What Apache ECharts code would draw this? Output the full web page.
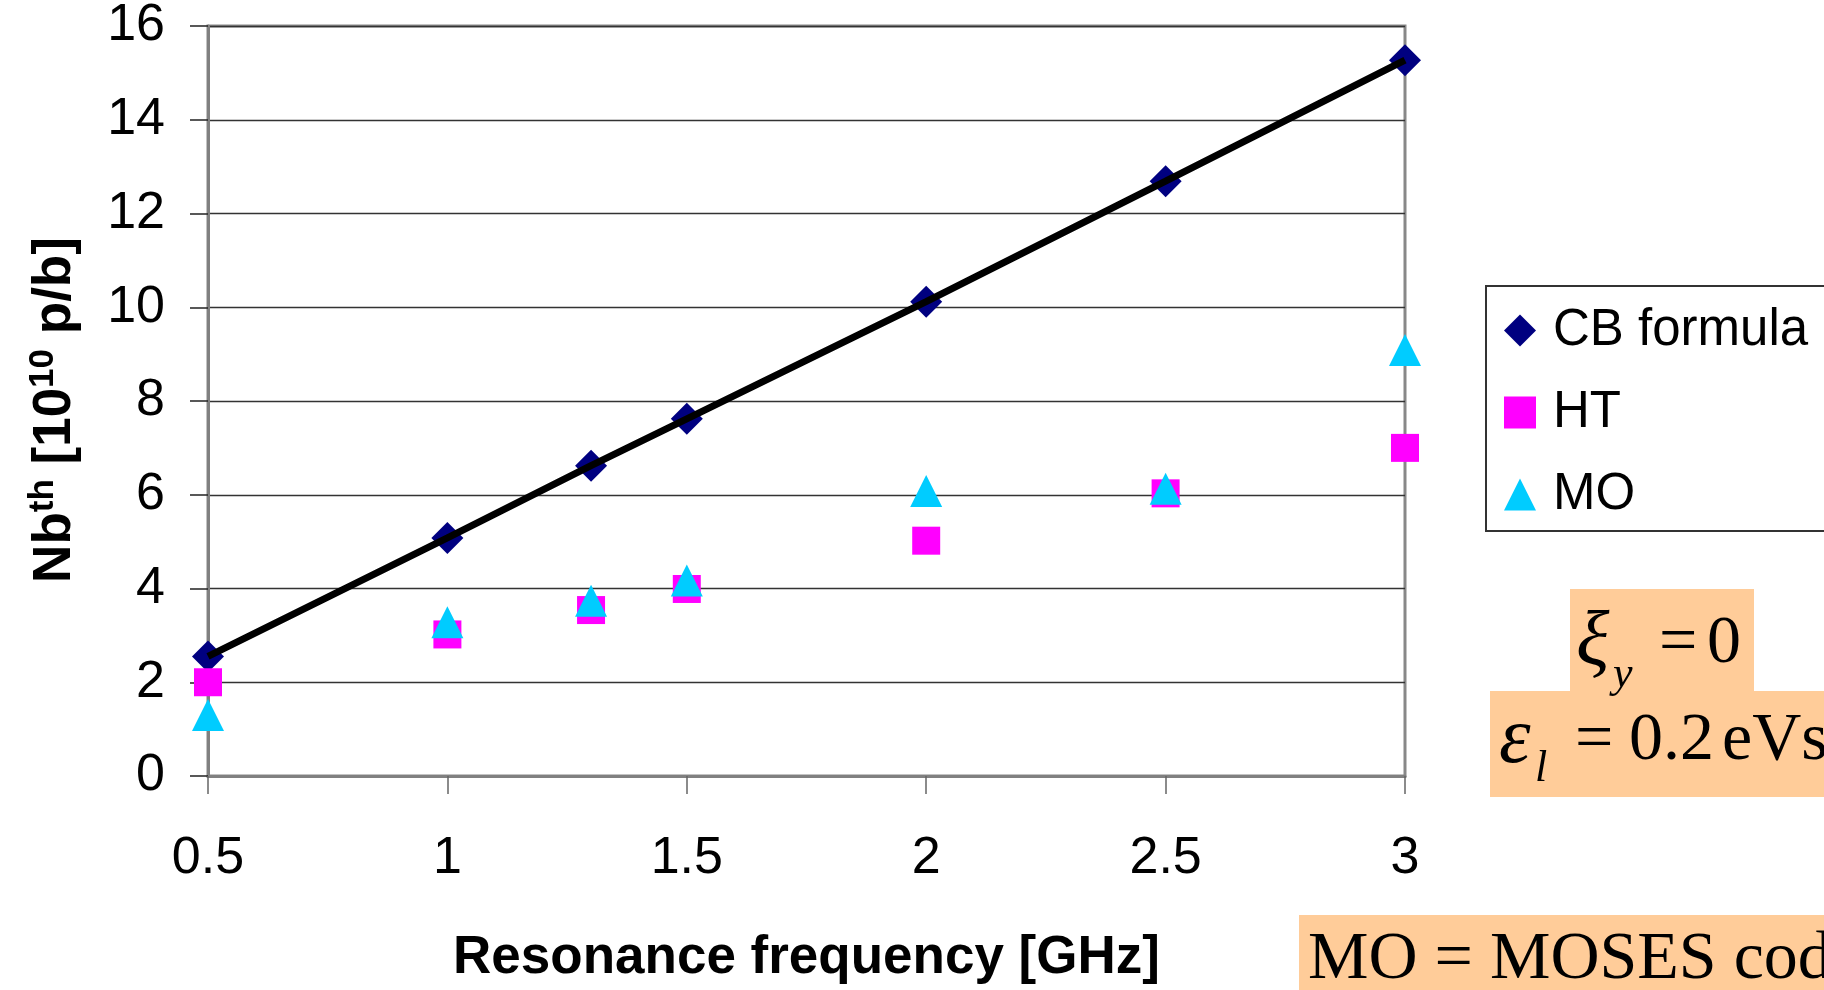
<!DOCTYPE html>
<html>
<head>
<meta charset="utf-8">
<script src="https://cdn.jsdelivr.net/npm/echarts@6/dist/echarts.min.js"></script>
<style>
  html, body { margin: 0; padding: 0; background: #fff; }
  #chart { width: 1824px; height: 990px; }
</style>
</head>
<body>
<div id="chart"></div>
<script>
// resonance frequency [GHz]
var freq = [0.5, 1.0, 1.3, 1.5, 2.0, 2.5, 3.0];
// threshold bunch intensity [1e10 p/b]
var cbFormula = [2.55, 5.08, 6.62, 7.62, 10.12, 12.69, 15.27];
var htValues = [2.0, 3.02, 3.54, 3.99, 5.02, 6.03, 7.0];
var moValues = [1.3, 3.28, 3.74, 4.17, 6.08, 6.13, 9.09];

function pairs(ys) {
  return freq.map(function (f, i) { return [f, ys[i]]; });
}

var sans = 'Liberation Sans, Arial, sans-serif';
var serif = 'Liberation Serif, Times New Roman, serif';
var peach = '#FFCC99';

function eqText(x, y, text, size, italic) {
  return {
    type: 'text', x: x, y: y, z: 11,
    style: {
      text: text, fontFamily: serif, fontSize: size,
      fontStyle: italic ? 'italic' : 'normal',
      fill: '#000', verticalAlign: 'middle'
    }
  };
}

var chart = echarts.init(document.getElementById('chart'));
chart.setOption({
  animation: false,
  grid: {
    left: 208, right: 419, top: 26, bottom: 197,
    show: true, borderColor: '#888', borderWidth: 3
  },
  legend: {
    orient: 'vertical',
    left: 1486, top: 286,
    padding: [19, 24, 11, 18],
    itemWidth: 32, itemHeight: 32, itemGap: 31,
    borderColor: '#333', borderWidth: 2,
    backgroundColor: '#fff',
    textStyle: { fontFamily: sans, fontSize: 51, color: '#000', padding: [0, 0, 0, 12] },
    data: [
      { name: 'CB formula', icon: 'diamond' },
      { name: 'HT', icon: 'rect' },
      { name: 'MO', icon: 'triangle' }
    ]
  },
  xAxis: {
    type: 'value', min: 0.5, max: 3, interval: 0.5,
    name: 'Resonance frequency [GHz]',
    nameLocation: 'middle', nameGap: 156,
    nameTextStyle: { fontFamily: sans, fontSize: 53, fontWeight: 'bold', color: '#000' },
    axisLine: { show: true, lineStyle: { color: '#808080', width: 3 } },
    axisTick: { show: true, length: 18, lineStyle: { color: '#666', width: 1.5 } },
    axisLabel: { margin: 57, fontFamily: sans, fontSize: 52, color: '#000' },
    splitLine: { show: false }
  },
  yAxis: {
    type: 'value', min: 0, max: 16, interval: 2,
    name: '{b|Nb}{s|th}{b| [10}{s|10}{e| p/b]}',
    nameLocation: 'middle', nameGap: 126, nameRotate: 90,
    nameTextStyle: {
      rich: {
        b: { fontFamily: sans, fontSize: 53, fontWeight: 'bold', color: '#000', lineHeight: 56, verticalAlign: 'bottom' },
        s: { fontFamily: sans, fontSize: 35, fontWeight: 'bold', color: '#000', lineHeight: 35, verticalAlign: 'top' },
        e: { fontFamily: sans, fontSize: 53, fontWeight: 'bold', color: '#000', lineHeight: 56, verticalAlign: 'bottom', padding: [0, 18, 0, 0] }
      }
    },
    axisLine: { show: true, lineStyle: { color: '#808080', width: 3 } },
    axisTick: { show: true, length: 18, lineStyle: { color: '#222', width: 1.5 } },
    axisLabel: { margin: 43, fontFamily: sans, fontSize: 52, color: '#000' },
    splitLine: { show: true, lineStyle: { color: '#333', width: 1.3 } }
  },
  series: [
    {
      name: 'CB formula', type: 'scatter', data: pairs(cbFormula),
      symbol: 'diamond', symbolSize: 32,
      itemStyle: { color: '#000080', opacity: 1 }, z: 2
    },
    {
      name: 'HT', type: 'scatter', data: pairs(htValues),
      symbol: 'rect', symbolSize: 28,
      itemStyle: { color: '#FF00FF', opacity: 1 }, z: 3
    },
    {
      name: 'MO', type: 'scatter', data: pairs(moValues),
      symbol: 'triangle', symbolSize: 32,
      itemStyle: { color: '#00CCFF', opacity: 1 }, z: 4
    },
    {
      name: 'CB line', type: 'line', data: pairs(cbFormula),
      symbol: 'none', silent: true,
      lineStyle: { color: '#000', width: 7 }, z: 5
    }
  ],
  graphic: [
    { type: 'rect', shape: { x: 1570, y: 589, width: 184, height: 103 }, style: { fill: peach }, z: 10 },
    { type: 'rect', shape: { x: 1490, y: 691, width: 340, height: 106 }, style: { fill: peach }, z: 10 },
    { type: 'rect', shape: { x: 1299, y: 915, width: 530, height: 77 }, style: { fill: peach }, z: 10 },
    eqText(1576, 644, 'ξ', 78, true),
    eqText(1613, 675, 'y', 44, true),
    eqText(1659, 644, '=', 68, false),
    eqText(1707, 644, '0', 68, false),
    eqText(1499, 741, 'ε', 80, true),
    eqText(1535, 769, 'l', 44, true),
    eqText(1575, 741, '=', 68, false),
    eqText(1629, 741, '0.2', 68, false),
    eqText(1722, 741, 'eVs', 68, false),
    eqText(1308, 960, 'MO = MOSES code', 68, false)
  ]
});
</script>
</body>
</html>
